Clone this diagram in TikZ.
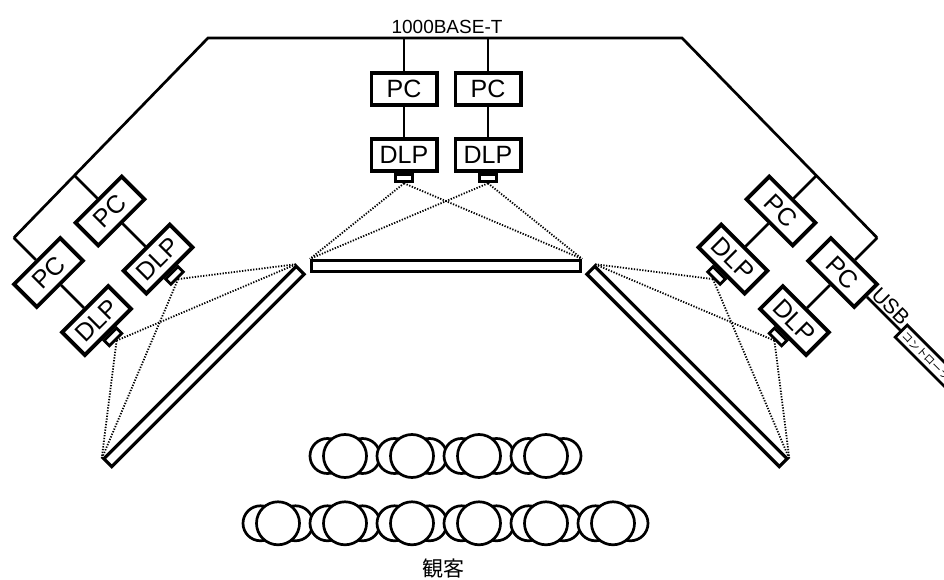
\documentclass[tikz,border=0pt]{standalone}
\usepackage{fontspec}
\setmainfont{Liberation Sans}
\newfontfamily\jpfont{Noto Sans CJK JP}
\usetikzlibrary{calc}
\tikzset{
  box/.style={draw, line width=3.8pt, fill=white, minimum width=65.2pt, minimum height=32.2pt, inner sep=0pt, font=\fontsize{25}{25}\selectfont},
  lens/.style={draw, line width=2.8pt, fill=white, minimum width=17.5pt, minimum height=7.5pt, inner sep=0pt},
  screen/.style={draw, line width=3.2pt, fill=white, minimum width=269pt, minimum height=11pt, inner sep=0pt},
  ctrl/.style={draw, line width=2.8pt, fill=white, minimum height=17pt, inner xsep=4pt, inner ysep=0pt, font=\jpfont\fontsize{10.5}{10.5}\selectfont},
  wire/.style={line width=2.7pt},
  beam/.style={line width=1.8pt, dash pattern=on 1.3pt off 1.5pt},
  person/.pic={
    \draw[line width=2.7pt, fill=white] (-17.5pt,0pt) circle (17.5pt) (17.5pt,0pt) circle (17.5pt);
    \draw[line width=2.7pt, fill=white] (0pt,0pt) circle (21.5pt);
  }
}
\begin{document}
\begin{tikzpicture}[x=1pt,y=1pt]
\useasboundingbox (0,0) rectangle (944,580);
\clip (0,0) rectangle (944,580);
\fill[white] (0,0) rectangle (944,580);

% centre
\coordinate (tl) at (208,542);
\coordinate (tr) at (682,542);
\node[box] (pc1) at (404,491) {PC};
\node[box] (pc2) at (488,491) {PC};
\node[box] (d1) at (404,425) {DLP};
\node[box] (d2) at (488,425) {DLP};
\node[lens, anchor=north] (lc1) at (d1.south) {};
\node[lens, anchor=north] (lc2) at (d2.south) {};

% left
\node[box, rotate=45] (pcL1) at (110,369) {PC};
\node[box, rotate=45] (pcL2) at ($(pcL1)+(225:87pt)$) {PC};
\node[box, rotate=45] (dL1) at ($(pcL1)+(-45:68pt)$) {DLP};
\node[box, rotate=45] (dL2) at ($(pcL2)+(-45:68pt)$) {DLP};
\node[lens, rotate=45, anchor=north] (lL1) at (dL1.south) {};
\node[lens, rotate=45, anchor=north] (lL2) at (dL2.south) {};
\coordinate (cL) at ($(pcL2.north)+(135:31pt)$);
\coordinate (bL) at (intersection of tl--cL and pcL1.north--pcL1.south);

% right
\node[box, rotate=-45] (pcR1) at (781,369) {PC};
\node[box, rotate=-45] (pcR2) at ($(pcR1)+(-45:87pt)$) {PC};
\node[box, rotate=-45] (dR1) at ($(pcR1)+(225:68pt)$) {DLP};
\node[box, rotate=-45] (dR2) at ($(pcR2)+(225:68pt)$) {DLP};
\node[lens, rotate=-45, anchor=north] (lR1) at (dR1.south) {};
\node[lens, rotate=-45, anchor=north] (lR2) at (dR2.south) {};
\coordinate (cR) at ($(pcR2.north)+(45:31pt)$);
\coordinate (bR) at (intersection of tr--cR and pcR1.north--pcR1.south);

% controller
\node[ctrl, rotate=-45, anchor=west] (ctl) at ($(pcR2.east)+(-45:47pt)$) {コントローラ};

% network
\draw[wire] (cL) -- (tl) -- (tr) -- (cR);
\draw[wire] (pc1.north) -- (pc1.north |- tl);
\draw[wire] (pc2.north) -- (pc2.north |- tr);
\draw[wire] (pc1.south) -- (d1.north);
\draw[wire] (pc2.south) -- (d2.north);
\draw[wire] (cL) -- (pcL2.north);
\draw[wire] (bL) -- (pcL1.north);
\draw[wire] (pcL1.south) -- (dL1.north);
\draw[wire] (pcL2.south) -- (dL2.north);
\draw[wire] (cR) -- (pcR2.north);
\draw[wire] (bR) -- (pcR1.north);
\draw[wire] (pcR1.south) -- (dR1.north);
\draw[wire] (pcR2.south) -- (dR2.north);
\draw[wire] (pcR2.east) -- (ctl.west)
  node[midway, sloped, above, inner sep=1.5pt, font=\fontsize{21}{21}\selectfont] {USB};
\node[anchor=base, font=\fontsize{19}{19}\selectfont] (net) at (447,546) {1000BASE-T};

% screens
\node[screen] (sc) at (446,314) {};
\node[screen, rotate=45, minimum width=272pt] (sL) at (204,213.5) {};
\node[screen, rotate=-45, minimum width=272pt] (sR) at (687,213.5) {};

% projection beams
\draw[beam] (lc1.south) -- (sc.north west);
\draw[beam] (lc1.south) -- (sc.north east);
\draw[beam] (lc2.south) -- (sc.north west);
\draw[beam] (lc2.south) -- (sc.north east);
\draw[beam] (lL1.south) -- (sL.north east);
\draw[beam] (lL1.south) -- (sL.north west);
\draw[beam] (lL2.south) -- (sL.north east);
\draw[beam] (lL2.south) -- (sL.north west);
\draw[beam] (lR1.south) -- (sR.north west);
\draw[beam] (lR1.south) -- (sR.north east);
\draw[beam] (lR2.south) -- (sR.north west);
\draw[beam] (lR2.south) -- (sR.north east);

% audience
\foreach \x in {345,412,479,546} { \pic at (\x,124) {person}; }
\foreach \x in {278,345,412,479,546,613} { \pic at (\x,56.7) {person}; }
\node[font=\jpfont\fontsize{21}{21}\selectfont] (aud) at (443,11) {観客};
\end{tikzpicture}
\end{document}
